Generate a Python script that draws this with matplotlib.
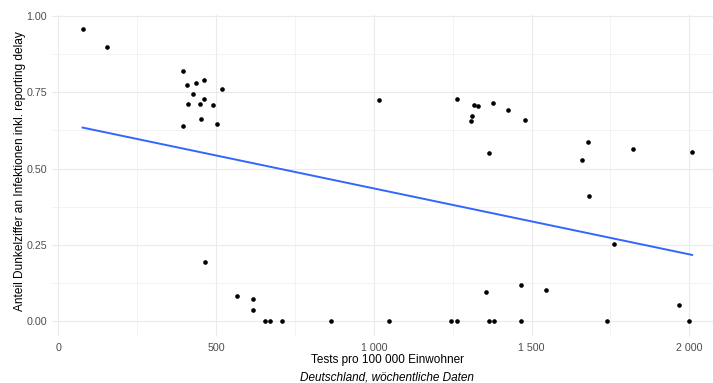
import matplotlib
matplotlib.use("Agg")
import matplotlib.pyplot as plt
import numpy as np

plt.rcParams['font.family'] = ['Liberation Sans', 'DejaVu Sans']

# weekly values: tests per 100k inhabitants vs. share of unreported infections
tests = [77, 153,
         394, 408, 437, 463, 428, 519, 410, 448, 463, 491, 453, 394, 502,
         464, 567, 616, 616, 654, 670, 708, 864,
         1015, 1265, 1317, 1331, 1311, 1308, 1377, 1425, 1478,
         1364, 1679, 1661, 1821, 2009, 1683, 1762,
         1356, 1466, 1545, 1966,
         1048, 1244, 1265, 1364, 1380, 1467, 1738, 1999]
anteil = [0.956, 0.898,
          0.820, 0.775, 0.781, 0.790, 0.746, 0.760, 0.712, 0.712, 0.728, 0.708, 0.663, 0.639, 0.646,
          0.194, 0.083, 0.073, 0.037, 0.0, 0.0, 0.0, 0.0,
          0.726, 0.728, 0.707, 0.704, 0.672, 0.657, 0.715, 0.691, 0.659,
          0.551, 0.586, 0.528, 0.565, 0.555, 0.411, 0.253,
          0.097, 0.118, 0.103, 0.053,
          0.0, 0.0, 0.0, 0.0, 0.0, 0.0, 0.0, 0.0]

x_ticks = [0, 500, 1000, 1500, 2000]
x_ticklabels = ['0', '500', '1 000', '1 500', '2 000']
y_ticks = [0.0, 0.25, 0.5, 0.75, 1.0]
y_ticklabels = ['0.00', '0.25', '0.50', '0.75', '1.00']

W, H = 713, 383
fig = plt.figure(figsize=(W / 100, H / 100), dpi=100)

x = np.array(tests, dtype=float)
y = np.array(anteil, dtype=float)
xr = x.max() - x.min()
yr = y.max() - y.min()
xlim = (x.min() - 0.05 * xr, x.max() + 0.05 * xr)
ylim = (y.min() - 0.05 * yr, y.max() + 0.05 * yr)

# panel placed in pixels: x=0 at 58.3px, x=2000 at 689.3px; y=0 at 321.3px, y=1 at 16px
px_per_x = (689.3 - 58.3) / 2000
px_per_y = (321.3 - 16.0) / 1.0
left = 58.3 + xlim[0] * px_per_x
right = 58.3 + xlim[1] * px_per_x
bottom = 321.3 - ylim[0] * px_per_y
top = 321.3 - ylim[1] * px_per_y
ax = fig.add_axes([left / W, 1 - bottom / H, (right - left) / W, (bottom - top) / H])
ax.set_xlim(*xlim)
ax.set_ylim(*ylim)

for s in ax.spines.values():
    s.set_visible(False)

ax.set_xticks(x_ticks)
ax.set_xticklabels(x_ticklabels)
ax.set_yticks(y_ticks)
ax.set_yticklabels(y_ticklabels)
ax.set_xticks([250, 750, 1250, 1750], minor=True)
ax.set_yticks([0.125, 0.375, 0.625, 0.875], minor=True)
ax.tick_params(which='both', length=0, labelsize=7.7, labelcolor='#4D4D4D')
ax.tick_params(axis='x', pad=4.8)
ax.tick_params(axis='y', pad=3.8)
ax.grid(which='major', color='#EBEBEB', lw=0.8)
ax.grid(which='minor', color='#F0F0F0', lw=0.55)
ax.set_axisbelow(True)

ax.scatter(x, y, s=11, color='black', linewidths=0, zorder=3)

# linear fit, like geom_smooth(method = "lm")
k, d = np.polyfit(x, y, 1)
xs = np.linspace(x.min(), x.max(), 80)
ax.plot(xs, k * xs + d, color='#3366FF', lw=1.4, zorder=2)

cx = (left + right) / 2
fig.text(cx / W, 1 - 360 / H, 'Tests pro 100 000 Einwohner', ha='center', va='center', fontsize=8.5)
fig.text(cx / W, 1 - 378 / H, 'Deutschland, wöchentliche Daten', ha='center', va='center',
         fontsize=8.5, style='italic')
fig.text(20 / W, 1 - 171 / H, 'Anteil Dunkelziffer an Infektionen inkl. reporting delay',
         ha='center', va='center', rotation=90, fontsize=8.6)

fig.savefig('out.png', dpi=100)
